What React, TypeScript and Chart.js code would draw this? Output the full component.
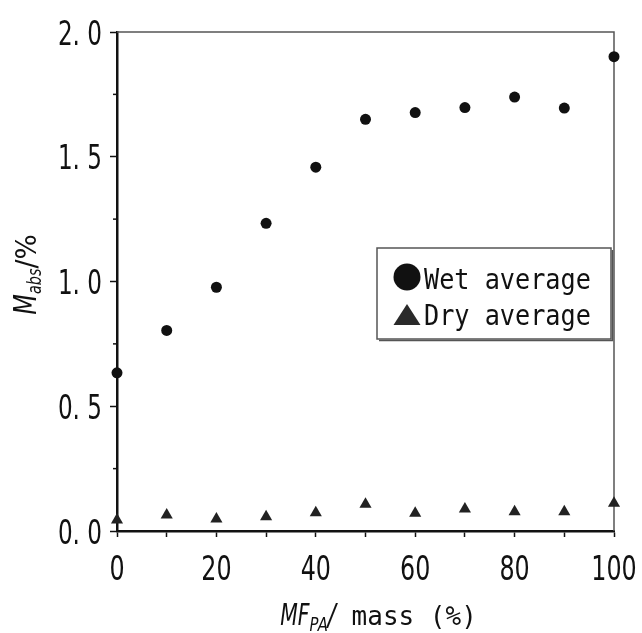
import React, { useEffect, useRef } from "react";
import { Chart, registerables } from "chart.js";

Chart.register(...registerables);

// ---- data ----
const massFractions = [0, 10, 20, 30, 40, 50, 60, 70, 80, 90, 100];
const wetAverage = [0.634, 0.804, 0.977, 1.233, 1.458, 1.65, 1.677, 1.697, 1.739, 1.695, 1.901];
const dryAverage = [0.044, 0.064, 0.048, 0.057, 0.073, 0.107, 0.071, 0.088, 0.077, 0.077, 0.111];
const seriesLabels = ["Wet average", "Dry average"];
const yMajorStep = 0.5;
const yMinorStep = 0.25;
const xLabelStep = 20;
const xTickStep = 10;

const SANS = '"DejaVu Sans", sans-serif';
const MONO = '"DejaVu Sans Mono", "Liberation Mono", monospace';
const INK = "#111";

const isMajorY = (n: number) => Math.abs(n / yMajorStep - Math.round(n / yMajorStep)) < 1e-6;
const fmtY = (n: number) => n.toFixed(1).replace(".", ". ");
const fmtX = (n: number) => (n % xLabelStep === 0 ? String(n) : "");

function drawPieces(
  ctx: CanvasRenderingContext2D,
  pieces: { t: string; font: string; dy: number; sx?: number }[],
  cx: number,
  cy: number
) {
  let total = 0;
  const widths = pieces.map((p) => {
    ctx.font = p.font;
    const w = ctx.measureText(p.t).width * (p.sx ?? 1);
    total += w;
    return w;
  });
  let x = cx - total / 2;
  pieces.forEach((p, i) => {
    ctx.font = p.font;
    ctx.save();
    ctx.translate(x, cy + p.dy);
    ctx.scale(p.sx ?? 1, 1);
    ctx.fillText(p.t, 0, 0);
    ctx.restore();
    x += widths[i];
  });
}

function drawNarrow(ctx: CanvasRenderingContext2D, t: string, x: number, y: number, sx: number, align: "left" | "center" | "right") {
  const w = ctx.measureText(t).width * sx;
  const x0 = align === "left" ? x : align === "center" ? x - w / 2 : x - w;
  ctx.save();
  ctx.translate(x0, y);
  ctx.scale(sx, 1);
  ctx.fillText(t, 0, 0);
  ctx.restore();
}

const decorPlugin = {
  id: "decor",
  beforeDatasetsDraw(chart: any) {
    const { ctx, chartArea: a, scales } = chart;
    ctx.save();
    ctx.strokeStyle = "#555";
    ctx.lineWidth = 1.5;
    ctx.beginPath();
    ctx.moveTo(a.left, a.top);
    ctx.lineTo(a.right, a.top);
    ctx.lineTo(a.right, a.bottom);
    ctx.stroke();
    // minor y ticks
    ctx.strokeStyle = INK;
    ctx.lineWidth = 1.5;
    for (let v = yMinorStep; v < 2; v += yMajorStep) {
      const y = scales.y.getPixelForValue(v);
      ctx.beginPath();
      ctx.moveTo(a.left - 4, y);
      ctx.lineTo(a.left, y);
      ctx.stroke();
    }
    ctx.restore();
  },
  afterDraw(chart: any) {
    const { ctx, chartArea: a, scales } = chart;
    ctx.save();
    ctx.fillStyle = INK;
    ctx.textBaseline = "alphabetic";

    // condensed tick labels, positioned by the scales
    ctx.font = `34px ${SANS}`;
    scales.y.ticks.forEach((t: any) => {
      if (!isMajorY(t.value)) return;
      const y = scales.y.getPixelForValue(t.value);
      drawNarrow(ctx, fmtY(t.value), a.left - 15, y + 12.5, 0.68, "right");
    });
    scales.x.ticks.forEach((t: any) => {
      const s = fmtX(t.value);
      if (!s) return;
      const x = scales.x.getPixelForValue(t.value);
      drawNarrow(ctx, s, x, a.bottom + 49, 0.7, "center");
    });

    // x title: MF_PA/ mass (%)
    drawPieces(
      ctx,
      [
        { t: "MF", font: `italic 30px ${SANS}`, dy: 0, sx: 0.68 },
        { t: "PA", font: `italic 19px ${SANS}`, dy: 6, sx: 0.78 },
        { t: "/", font: `italic 30px ${SANS}`, dy: 0, sx: 0.8 },
        { t: " mass (%)", font: `26px ${MONO}`, dy: 0, sx: 1.0 },
      ],
      (a.left + a.right) / 2 + 13,
      a.bottom + 94
    );

    // y title: M_abs/%
    ctx.save();
    ctx.translate(36, (a.top + a.bottom) / 2);
    ctx.rotate(-Math.PI / 2);
    drawPieces(
      ctx,
      [
        { t: "M", font: `italic 32px ${SANS}`, dy: 0, sx: 0.75 },
        { t: "abs", font: `italic 20px ${SANS}`, dy: 5, sx: 0.72 },
        { t: "/%", font: `28px ${SANS}`, dy: 0, sx: 0.95 },
      ],
      7,
      0
    );
    ctx.restore();

    // legend
    const bx = a.right - 237;
    const by = a.top + 216;
    const bw = 234;
    const bh = 91;
    ctx.fillStyle = "#fff";
    ctx.fillRect(bx, by, bw, bh);
    ctx.strokeStyle = "#555";
    ctx.lineWidth = 1.5;
    ctx.strokeRect(bx, by, bw, bh);
    ctx.beginPath();
    ctx.moveTo(bx + bw + 1.5, by + 2);
    ctx.lineTo(bx + bw + 1.5, by + bh + 1.5);
    ctx.lineTo(bx + 2, by + bh + 1.5);
    ctx.stroke();

    const mx = bx + 30;
    ctx.fillStyle = INK;
    ctx.beginPath();
    ctx.arc(mx, by + 29, 13.5, 0, Math.PI * 2);
    ctx.fill();
    ctx.fillStyle = "#2a2a2a";
    ctx.beginPath();
    ctx.moveTo(mx, by + 56);
    ctx.lineTo(mx + 13.5, by + 77);
    ctx.lineTo(mx - 13.5, by + 77);
    ctx.closePath();
    ctx.fill();

    ctx.fillStyle = INK;
    ctx.font = `28px ${MONO}`;
    [0, 1].forEach((i) => {
      drawNarrow(ctx, seriesLabels[i], bx + 47, by + (i === 0 ? 41 : 77), 0.9, "left");
    });
    ctx.restore();
  },
};

export default function App() {
  const ref = useRef<HTMLCanvasElement | null>(null);
  useEffect(() => {
    if (!ref.current) return;
    const chart = new Chart(ref.current, {
      type: "scatter",
      data: {
        datasets: [
          {
            label: seriesLabels[0],
            data: massFractions.map((x, i) => ({ x, y: wetAverage[i] })),
            pointStyle: "circle",
            pointRadius: 5.5,
            backgroundColor: INK,
            borderColor: INK,
            borderWidth: 0,
            clip: false as any,
          },
          {
            label: seriesLabels[1],
            data: massFractions.map((x, i) => ({ x, y: dryAverage[i] })),
            pointStyle: "triangle",
            pointRadius: 7,
            backgroundColor: "#222",
            borderColor: "#222",
            borderWidth: 0,
            clip: false as any,
          },
        ],
      },
      options: {
        responsive: true,
        maintainAspectRatio: false,
        animation: false,
        layout: { padding: { left: 0, right: 28, top: 32, bottom: 0 } },
        plugins: { legend: { display: false }, tooltip: { enabled: false } },
        scales: {
          x: {
            type: "linear",
            min: 0,
            max: 100,
            ticks: {
              stepSize: xTickStep,
              autoSkip: false,
              maxRotation: 0,
              color: "rgba(0,0,0,0)",
              font: { family: SANS, size: 34 },
              callback: (v: any) => fmtX(Number(v)),
            },
            grid: { drawOnChartArea: false, drawTicks: true, tickLength: 6, tickColor: INK, tickWidth: 1.5 },
            border: { color: INK, width: 2.5 },
            afterFit: (s: any) => {
              s.height = 102;
              s.paddingLeft = 0;
              s.paddingRight = 0;
            },
          },
          y: {
            type: "linear",
            min: 0,
            max: 2,
            ticks: {
              stepSize: yMinorStep,
              autoSkip: false,
              color: "rgba(0,0,0,0)",
              font: { family: SANS, size: 34 },
              callback: (v: any) => (isMajorY(Number(v)) ? fmtY(Number(v)) : ""),
            },
            grid: {
              drawOnChartArea: false,
              drawTicks: true,
              tickLength: 7,
              tickWidth: 1.5,
              tickColor: (c: any) => (c.tick && isMajorY(c.tick.value) ? INK : "rgba(0,0,0,0)"),
            },
            border: { color: INK, width: 2.5 },
            afterFit: (s: any) => {
              s.width = 117;
              s.paddingTop = 0;
              s.paddingBottom = 0;
            },
          },
        },
      },
      plugins: [decorPlugin],
    });
    return () => chart.destroy();
  }, []);
  return (
    <div style={{ position: "fixed", left: 0, top: 0, width: 642, height: 633, background: "#fff" }}>
      <canvas ref={ref} />
    </div>
  );
}
